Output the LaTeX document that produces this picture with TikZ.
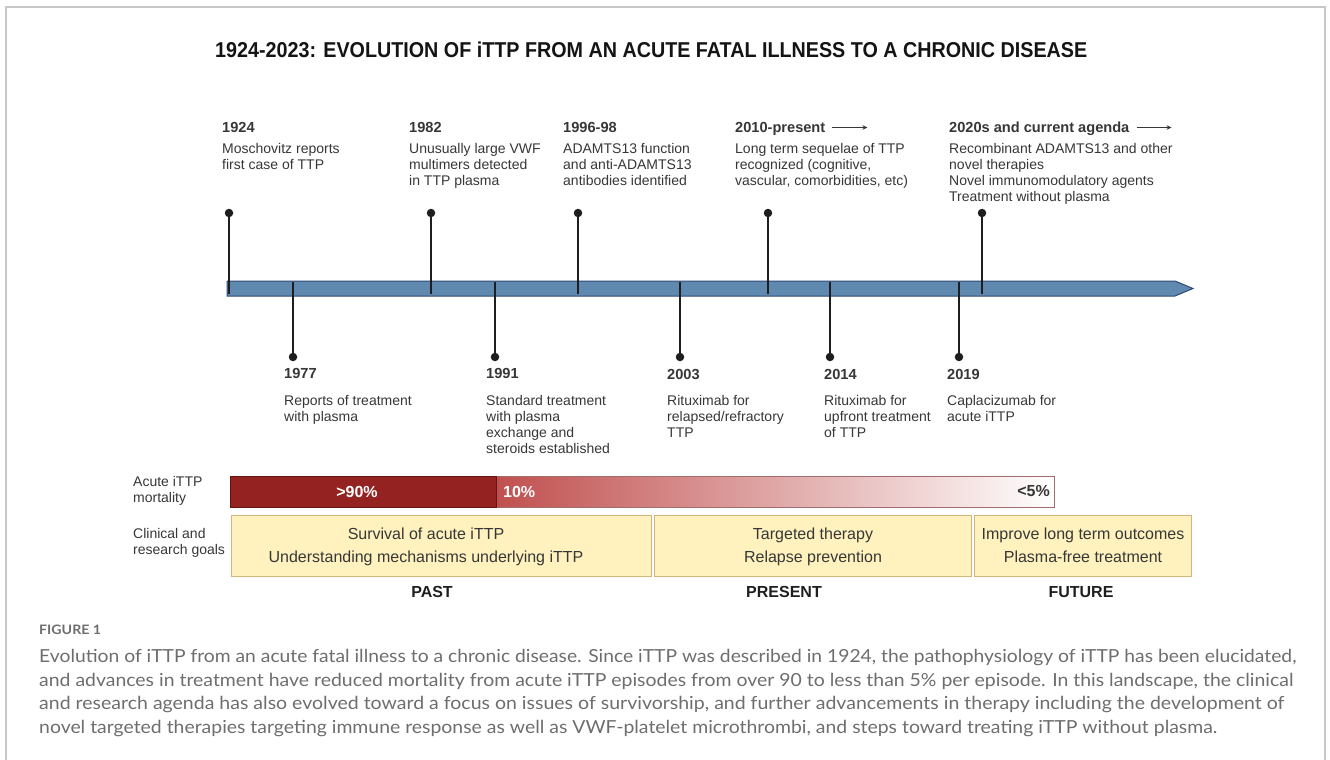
\documentclass[tikz,border=0pt]{standalone}
\usepackage{fontspec}
\usepackage{graphicx}
\setmainfont{Liberation Sans}
\newfontfamily\capfont{Lato}
\usetikzlibrary{arrows.meta}
\definecolor{framec}{RGB}{200,200,200}
\definecolor{titlec}{RGB}{20,20,20}
\definecolor{txtc}{RGB}{55,55,55}
\definecolor{stemc}{RGB}{30,30,30}
\definecolor{barf}{RGB}{95,137,175}
\definecolor{barb}{RGB}{48,74,120}
\definecolor{mdark}{RGB}{148,34,32}
\definecolor{mdarkb}{RGB}{100,22,22}
\definecolor{mred}{RGB}{192,80,79}
\definecolor{mgradb}{RGB}{160,110,110}
\definecolor{goalf}{RGB}{255,242,190}
\definecolor{goalb}{RGB}{214,180,125}
\definecolor{capc}{RGB}{110,110,110}
\newcommand{\mycapline}[2]{\resizebox{#1}{\height}{#2}}
\begin{document}
\begin{tikzpicture}[x=1pt,y=-1pt,
  yr/.style={font=\fontsize{14.6}{16}\selectfont\bfseries, text=txtc, inner sep=0, anchor=base west},
  body/.style={font=\fontsize{14}{16}\selectfont, text=txtc, inner sep=0, align=left, anchor=north west},
  dot/.style={circle, fill=stemc, inner sep=0, minimum size=8.5pt},
  stem/.style={draw=stemc, line width=1.4pt},
  goal/.style={draw=goalb, fill=goalf, line width=1pt, inner sep=0, minimum height=61pt},
  goaltxt/.style={inner sep=0, align=center, font=\fontsize{16}{23}\selectfont, text=txtc},
  phase/.style={font=\fontsize{16}{18}\selectfont\bfseries, text=black!88, inner sep=0},
  mtxt/.style={font=\fontsize{16}{18}\selectfont\bfseries, inner sep=0},
  lbl/.style={font=\fontsize{14}{16}\selectfont, text=txtc, inner sep=0, align=left, anchor=west},
  capl/.style={font=\capfont\fontsize{18}{23}\selectfont, text=capc, inner sep=0, anchor=base west},
  fwd/.style={draw=txtc, line width=1pt, -{Stealth[length=5pt,width=4.5pt]}}
]
\useasboundingbox (0,0) rectangle (1330,760);
\fill[white] (0,0) rectangle (1330,760);
\draw[framec, line width=1.5pt] (6,760) -- (6,7) -- (1325,7) -- (1325,760);

% title
\node[anchor=base west, inner sep=0, font=\fontsize{21.5}{24}\selectfont\bfseries, text=titlec] (title) at (215,58)
  {\resizebox{872pt}{\height}{1924-2023: EVOLUTION OF iTTP FROM AN ACUTE FATAL ILLNESS TO A CHRONIC DISEASE}};

% timeline bar
\draw[fill=barf, draw=barb, line width=1pt] (227,281) -- (1175,281) -- (1193,288.5) -- (1175,296) -- (227,296) -- cycle;

% upper events
\foreach \n/\x in {a/229, b/431, c/578, d/768, e/982}{
  \node[dot] (d\n) at (\x,213) {};
  \coordinate (e\n) at (\x,294);
  \draw[stem] (d\n.center) -- (e\n);
}
% lower events
\foreach \n/\x in {f/293, g/495, h/680, i/830, j/959}{
  \node[dot] (d\n) at (\x,357) {};
  \coordinate (e\n) at (\x,282);
  \draw[stem] (e\n) -- (d\n.center);
}

% upper labels
\node[yr] (ya) at (222,132) {1924};
\node[body] (ta) at (222,143) {Moschovitz reports\\first case of TTP};
\node[yr] (yb) at (409,132) {1982};
\node[body] (tb) at (409,143) {Unusually large VWF\\multimers detected\\in TTP plasma};
\node[yr] (yc) at (563,132) {1996-98};
\node[body] (tc) at (563,143) {ADAMTS13 function\\and anti-ADAMTS13\\antibodies identified};
\node[yr] (yd) at (735,132) {2010-present};
\node[body] (td) at (735,143) {Long term sequelae of TTP\\recognized (cognitive,\\vascular, comorbidities, etc)};
\node[yr] (ye) at (949,132) {2020s and current agenda};
\node[body] (te) at (949,143) {Recombinant ADAMTS13 and other\\novel therapies\\Novel immunomodulatory agents\\Treatment without plasma};
\coordinate (ad1) at ([xshift=7pt,yshift=4.5pt]yd.base east);
\coordinate (ad2) at ([xshift=42pt,yshift=4.5pt]yd.base east);
\draw[fwd] (ad1) -- (ad2);
\coordinate (ae1) at ([xshift=7pt,yshift=4.5pt]ye.base east);
\coordinate (ae2) at ([xshift=42pt,yshift=4.5pt]ye.base east);
\draw[fwd] (ae1) -- (ae2);

% lower labels
\node[yr] (yf) at (284,378.5) {1977};
\node[body] (tf) at (284,395) {Reports of treatment\\with plasma};
\node[yr] (yg) at (486,378.5) {1991};
\node[body] (tg) at (486,395) {Standard treatment\\with plasma\\exchange and\\steroids established};
\node[yr] (yh) at (667,379) {2003};
\node[body] (th) at (667,395) {Rituximab for\\relapsed/refractory\\TTP};
\node[yr] (yi) at (824,379) {2014};
\node[body] (ti) at (824,395) {Rituximab for\\upfront treatment\\of TTP};
\node[yr] (yj) at (947,379) {2019};
\node[body] (tj) at (947,395) {Caplacizumab for\\acute iTTP};

% mortality bar
\shade[left color=mred, right color=white] (496,476) rectangle (1054,507);
\draw[mgradb, line width=1pt] (496,476) rectangle (1054,507);
\fill[mdark] (230,476) rectangle (496,507);
\draw[mdarkb, line width=1pt] (230,476) rectangle (496,507);
\node[mtxt, text=white] (p90) at (357,491.5) {>90\%};
\node[mtxt, text=white, anchor=west] (p10) at (503,491.5) {10\%};
\node[mtxt, text=txtc, anchor=east] (p5) at (1050,491.5) {<5\%};

% side labels
\node[lbl] (lm) at (133,491) {Acute iTTP\\mortality};
\node[lbl] (lg) at (133,542.5) {Clinical and\\research goals};

% goal boxes
\node[goal, minimum width=420pt] (gpast) at (441,545.5) {};
\node[goaltxt] (gpastt) at (426,547) {Survival of acute iTTP\\Understanding mechanisms underlying iTTP};
\node[goal, minimum width=317pt] (gpres) at (812.5,545.5) {};
\node[goaltxt] (gprest) at (813,546.5) {Targeted therapy\\Relapse prevention};
\node[goal, minimum width=217pt] (gfut) at (1082.5,545.5) {};
\node[goaltxt] (gfutt) at (1083,545) {Improve long term outcomes\\Plasma-free treatment};

% phases
\node[phase] (past) at (432,592) {PAST};
\node[phase] (pres) at (784,592) {PRESENT};
\node[phase] (fut) at (1081,592) {FUTURE};

% caption
\node[capl, font=\capfont\bfseries\fontsize{13}{15}\selectfont] (fig) at (39,634) {\resizebox{62pt}{\height}{FIGURE 1}};
\node[capl] (c1) at (39,662) {\mycapline{1257pt}{Evolution of iTTP from an acute fatal illness to a chronic disease. Since iTTP was described in 1924, the pathophysiology of iTTP has been elucidated,}};
\node[capl] (c2) at (39,686) {\mycapline{1254pt}{and advances in treatment have reduced mortality from acute iTTP episodes from over 90 to less than 5\% per episode. In this landscape, the clinical}};
\node[capl] (c3) at (39,709.5) {\mycapline{1245pt}{and research agenda has also evolved toward a focus on issues of survivorship, and further advancements in therapy including the development of}};
\node[capl] (c4) at (39,733) {\mycapline{1178pt}{novel targeted therapies targeting immune response as well as VWF-platelet microthrombi, and steps toward treating iTTP without plasma.}};
\end{tikzpicture}
\end{document}
